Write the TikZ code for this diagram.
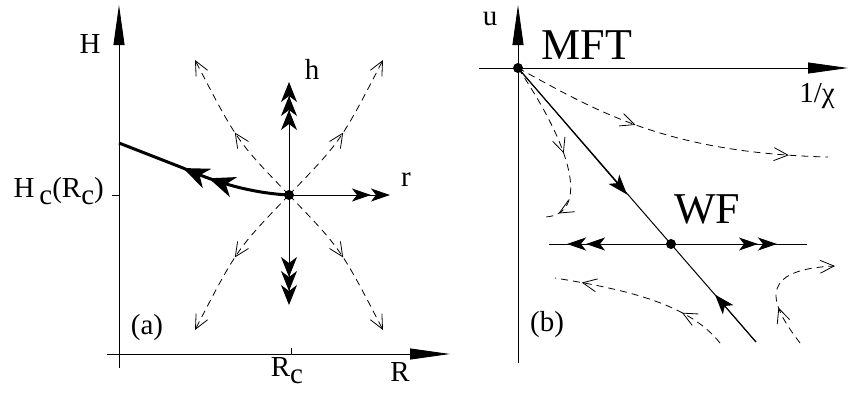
\documentclass[tikz,border=0pt]{standalone}
\usepackage{fontspec}
\setmainfont{Liberation Serif}
\usetikzlibrary{arrows.meta,decorations.markings}
\tikzset{
  axis/.style={line width=0.9pt,-{Triangle[length=40pt,width=11pt]}},
  flowline/.style={line width=1pt},
  critline/.style={line width=3pt},
  dashflow/.style={line width=0.8pt,dash pattern=on 7pt off 5pt},
  fixpt/.style={circle,fill,inner sep=0pt,minimum size=10pt},
  lbl/.style={font=\fontsize{29}{32}\selectfont,inner sep=0pt},
  biglbl/.style={font=\fontsize{44}{48}\selectfont,inner sep=0pt},
  chevend/.style={-{Straight Barb[length=14pt,width=13pt]}},
  chevmid/.style={postaction={decorate,decoration={markings,
      mark=at position #1 with {\arrow{Straight Barb[length=14pt,width=13pt]}}}}},
  critmark/.style={postaction={decorate,decoration={markings,
      mark=at position #1 with {\arrow{Stealth[length=26pt,width=21pt,inset=8pt]}}}}},
  relevant/.style={-{Stealth[length=20pt,width=16pt,inset=6pt,sep=-6pt]
      Stealth[length=20pt,width=16pt,inset=6pt,sep=-6pt]
      Stealth[length=20pt,width=16pt,inset=6pt]}},
  twohead/.style={-{Stealth[length=19pt,width=13pt,inset=5pt,sep=0pt]
      Stealth[length=19pt,width=13pt,inset=5pt]}},
  onehead/.style={-{Stealth[length=20pt,width=14pt,inset=5pt]}}
}
\newcommand{\subc}[1]{\raisebox{-7pt}{#1}}

\begin{document}
\begin{tikzpicture}[x=1pt,y=-1pt]
\useasboundingbox (0,0) rectangle (848,392);

% ---------- (a) ----------
% axes
\coordinate (Hbot) at (119,368);
\coordinate (Htop) at (119,5);
\coordinate (Rleft) at (107,354);
\coordinate (Rright) at (450,354);
\draw[axis] (Hbot) -- (Htop);
\draw[axis] (Rleft) -- (Rright);
\node[lbl] (Hlab) at (90,44) {H};
\node[lbl] (Rlab) at (400,372) {R};

% ticks
\coordinate (Htick) at (119,195);
\coordinate (Rtick) at (291,354);
\draw[line width=0.9pt] (Htick) -- ++(-7,0);
\draw[line width=0.9pt] (Rtick) -- ++(0,-6);
\node[lbl,anchor=east] (Hclab) at (104,191) {H\,\subc{c}(R\subc{c})};
\node[lbl] (Rclab) at (287,371) {R\subc{c}};

% fixed point and scaling directions
\node[fixpt] (FP) at (289,195) {};
\coordinate (hup) at (289,82);
\coordinate (hdn) at (289,305);
\coordinate (rend) at (390,195);
\draw[flowline,relevant] (FP.center) -- (hup);
\draw[flowline,relevant] (FP.center) -- (hdn);
\draw[flowline,twohead] (FP.center) -- (rend);
\node[lbl] (hlab) at (312,69) {h};
\node[lbl] (rlab) at (406,180) {r};

% critical line
\coordinate (kink) at (183,168);
\coordinate (Hc0) at (119,143);
\draw[critline,critmark=0.46,critmark=0.615]
  (FP.center) .. controls (250,193) and (215,182) .. (kink) -- (Hc0);

% other flows
\coordinate (ul) at (195,60);
\coordinate (ur) at (383,60);
\coordinate (ll) at (195,330);
\coordinate (lr) at (383,330);
\draw[dashflow,chevmid=0.5,chevend] (FP.center) .. controls (237,141) .. (ul);
\draw[dashflow,chevmid=0.5,chevend] (FP.center) .. controls (341,141) .. (ur);
\draw[dashflow,chevmid=0.5,chevend] (FP.center) .. controls (237,249) .. (ll);
\draw[dashflow,chevmid=0.5,chevend] (FP.center) .. controls (341,249) .. (lr);

\node[lbl] (alab) at (147,328) {(a)};

% ---------- (b) ----------
% axes
\coordinate (ubot) at (518,363);
\coordinate (utop) at (518,5);
\coordinate (chileft) at (479,68);
\coordinate (chiright) at (848,68);
\draw[axis] (ubot) -- (utop);
\draw[axis] (chileft) -- (chiright);
\node[lbl] (ulab) at (490,19) {u};
\node[lbl] (chilab) at (817,96) {1/χ};

% fixed points
\node[fixpt] (MFT) at (518,68) {};
\node[fixpt] (WF) at (671,244) {};
\node[biglbl] (MFTlab) at (587,45) {MFT};
\node[biglbl] (WFlab) at (707,209) {WF};

% separatrix
\coordinate (sepend) at (756,342);
\coordinate (sepin) at (627,194.5);
\coordinate (sepup) at (715,294.6);
\draw[flowline] (MFT.center) -- (sepend);
\draw[flowline,onehead] (MFT.center) -- (sepin);
\draw[flowline,onehead] (sepend) -- (sepup);

% unstable direction at WF
\coordinate (wfleft) at (549,244);
\coordinate (wfright) at (807,244);
\coordinate (wfl) at (567,244);
\coordinate (wfr) at (777,244);
\draw[flowline] (wfleft) -- (wfright);
\draw[flowline,twohead] (WF.center) -- (wfl);
\draw[flowline,twohead] (WF.center) -- (wfr);

% flows
\coordinate (aend) at (828,157);
\coordinate (bend) at (545,217);
\coordinate (cstart) at (720,343);
\coordinate (cend) at (555,278);
\coordinate (dstart) at (800,343);
\coordinate (dend) at (835,266);
\draw[dashflow,chevmid=0.4,chevmid=0.88] (MFT.center) .. controls (595,110) and (665,153) .. (aend);
\draw[dashflow,chevmid=0.55,chevmid=0.92] (MFT.center) .. controls (580,160) and (585,215) .. (bend);
\draw[dashflow,chevmid=0.27,chevmid=0.85] (cstart) .. controls (690,305) and (630,290) .. (cend);
\draw[dashflow,chevmid=0.33,chevend] (dstart) .. controls (775,310) and (750,270) .. (dend);

\node[lbl] (blab) at (547,325) {(b)};

\end{tikzpicture}
\end{document}
